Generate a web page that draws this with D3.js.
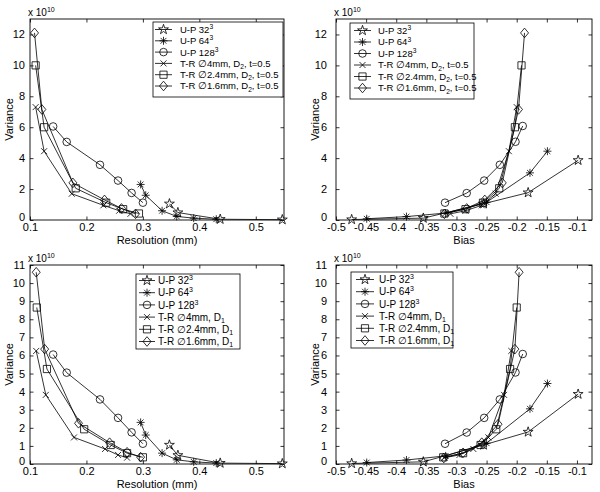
<!DOCTYPE html>
<html><head><meta charset="utf-8">
<script src="https://cdn.jsdelivr.net/npm/d3@7"></script>
<style>
body{margin:0;background:#fff}
svg{display:block}
text{font-family:"Liberation Sans",Arial,Helvetica,sans-serif;fill:#000}
</style>
</head><body>
<svg id="c" width="600" height="492"></svg>
<script>
// ---------------- DATA ----------------
const resTicks = [0.1, 0.2, 0.3, 0.4, 0.5];
const biasTicks = [-0.5, -0.45, -0.4, -0.35, -0.3, -0.25, -0.2, -0.15, -0.1];
const varTicksTop = [0, 2, 4, 6, 8, 10, 12];
const varTicksBottom = [0, 1, 2, 3, 4, 5, 6, 7, 8, 9, 10, 11];

const legendTop = ["U-P 32^{3}", "U-P 64^{3}", "U-P 128^{3}",
  "T-R \u22054mm, D_{2}, t=0.5", "T-R \u22052.4mm, D_{2}, t=0.5", "T-R \u22051.6mm, D_{2}, t=0.5"];
const legendBottom = ["U-P 32^{3}", "U-P 64^{3}", "U-P 128^{3}",
  "T-R \u22054mm, D_{1}", "T-R \u22052.4mm, D_{1}", "T-R \u22051.6mm, D_{1}"];

// Resolution (mm) vs variance (x 1e10)
const upRes32  = [[0.347,1.05],[0.362,0.48],[0.437,0.05],[0.547,0.02]];
const upRes64  = [[0.296,2.3],[0.305,1.6],[0.334,0.6],[0.36,0.23],[0.39,0.12],[0.43,0.05]];
const upRes128 = [[0.141,6.05],[0.165,5.05],[0.224,3.57],[0.256,2.55],[0.28,1.75],[0.30,1.12]];

const trRes4D2  = [[0.11,7.3],[0.125,4.45],[0.174,1.7],[0.23,0.95],[0.258,0.6],[0.278,0.4]];
const trRes24D2 = [[0.11,10.0],[0.125,6.0],[0.181,2.05],[0.235,1.12],[0.265,0.7],[0.293,0.42]];
const trRes16D2 = [[0.108,12.1],[0.121,7.15],[0.176,2.4],[0.232,1.3],[0.262,0.75],[0.287,0.4]];

const trRes4D1  = [[0.111,6.25],[0.128,3.82],[0.178,1.47],[0.233,0.83],[0.256,0.5],[0.272,0.35]];
const trRes24D1 = [[0.112,8.65],[0.13,5.25],[0.196,1.92],[0.243,1.05],[0.272,0.6],[0.30,0.37]];
const trRes16D1 = [[0.111,10.6],[0.126,6.35],[0.186,2.25],[0.241,1.18],[0.272,0.65],[0.296,0.38]];

// Bias vs variance (x 1e10)
const upBias32  = [[-0.474,0.03],[-0.355,0.12],[-0.255,1.05],[-0.181,1.77],[-0.098,3.86]];
const upBias64  = [[-0.449,0.08],[-0.383,0.22],[-0.318,0.45],[-0.25,1.15],[-0.178,3.05],[-0.149,4.45]];
const upBias128 = [[-0.319,1.12],[-0.283,1.74],[-0.254,2.55],[-0.228,3.57],[-0.202,5.06],[-0.19,6.08]];

const trBias4D2  = [[-0.2,7.3],[-0.213,4.45],[-0.235,1.7],[-0.258,0.95],[-0.285,0.6],[-0.31,0.4]];
const trBias24D2 = [[-0.192,10.0],[-0.203,6.0],[-0.229,2.05],[-0.256,1.12],[-0.285,0.7],[-0.32,0.42]];
const trBias16D2 = [[-0.187,12.1],[-0.197,7.15],[-0.224,2.4],[-0.253,1.3],[-0.283,0.75],[-0.32,0.4]];

const trBias4D1  = [[-0.209,6.25],[-0.221,3.82],[-0.247,1.47],[-0.272,0.83],[-0.295,0.5],[-0.32,0.35]];
const trBias24D1 = [[-0.2,8.65],[-0.211,5.25],[-0.234,1.92],[-0.26,1.05],[-0.289,0.6],[-0.322,0.37]];
const trBias16D1 = [[-0.196,10.6],[-0.203,6.35],[-0.231,2.2],[-0.258,1.18],[-0.289,0.62],[-0.321,0.33]];

// ---------------- MARKERS ----------------
function pentagram(R){
  const r = R*0.382, pts=[];
  for(let i=0;i<10;i++){
    const a = -Math.PI/2 + i*Math.PI/5, rr = i%2?r:R;
    pts.push([rr*Math.cos(a), rr*Math.sin(a)]);
  }
  return "M"+pts.map(p=>p[0].toFixed(2)+","+p[1].toFixed(2)).join("L")+"Z";
}
const markerPaths = [
  pentagram(5.2),
  "M-4,0L4,0M0,-4L0,4M-2.9,-2.9L2.9,2.9M-2.9,2.9L2.9,-2.9",
  d3.symbol(d3.symbolCircle, Math.PI*3.8*3.8)(),
  "M-3,-3L3,3M-3,3L3,-3",
  "M-3.6,-3.6H3.6V3.6H-3.6Z",
  "M0,-4.8L4,0L0,4.8L-4,0Z"
];

// ---------------- HELPERS ----------------
const svg = d3.select("#c");
svg.append("rect").attr("width",600).attr("height",492).attr("fill","#fff");

function rich(sel, str, fs){
  const parts = str.split(/(\^\{[^}]*\}|_\{[^}]*\})/).filter(p=>p.length);
  let off = 0;
  parts.forEach(p=>{
    let target = 0, txt = p, size = fs;
    if(p.startsWith("^{")){ target = -fs*0.4; txt = p.slice(2,-1); size = fs*0.7; }
    else if(p.startsWith("_{")){ target = fs*0.22; txt = p.slice(2,-1); size = fs*0.7; }
    sel.append("tspan").attr("dy", (target-off).toFixed(2)).attr("font-size", size).text(txt);
    off = target;
  });
}

function fmt(v){ return String(+v.toFixed(2)); }

function drawPanel(cfg){
  const x = d3.scaleLinear().domain(cfg.xDomain).range([cfg.left, cfg.right]);
  const y = d3.scaleLinear().domain(cfg.yDomain).range([cfg.bottom, cfg.top]);
  const g = svg.append("g");
  const w = cfg.right-cfg.left, h = cfg.bottom-cfg.top;

  // axes (ticks inside, box)
  const tk = 3.5;
  const ax = [
    g.append("g").attr("transform",`translate(0,${cfg.bottom})`).call(d3.axisBottom(x).tickValues(cfg.xTicks).tickSize(-tk).tickPadding(3).tickFormat(fmt)),
    g.append("g").attr("transform",`translate(0,${cfg.top})`).call(d3.axisTop(x).tickValues(cfg.xTicks).tickSize(-tk).tickFormat("")),
    g.append("g").attr("transform",`translate(${cfg.left},0)`).call(d3.axisLeft(y).tickValues(cfg.yTicks).tickSize(-tk).tickPadding(cfg.yPad).tickFormat(d3.format("d"))),
    g.append("g").attr("transform",`translate(${cfg.right},0)`).call(d3.axisRight(y).tickValues(cfg.yTicks).tickSize(-tk).tickFormat(""))
  ];
  ax.forEach(a=>{
    a.select(".domain").remove();
    a.selectAll("line").attr("stroke","#000").attr("stroke-width",0.8);
    a.selectAll("text").attr("font-size",11).attr("font-family",null);
  });
  // nudge the y-axis "0" label up so it clears the x tick labels
  ax[2].selectAll(".tick text").filter(d=>d===0).attr("dy","0.05em");
  g.append("rect").attr("x",cfg.left).attr("y",cfg.top).attr("width",w).attr("height",h)
    .attr("fill","none").attr("stroke","#000").attr("stroke-width",0.9);

  // series
  const line = d3.line().x(d=>x(d[0])).y(d=>y(d[1]));
  cfg.series.forEach((s,i)=>{
    g.append("path").datum(s).attr("d",line).attr("fill","none").attr("stroke","#000").attr("stroke-width",0.8);
    g.selectAll(null).data(s).join("path")
      .attr("transform",d=>`translate(${x(d[0]).toFixed(2)},${y(d[1]).toFixed(2)})`)
      .attr("d",markerPaths[i]).attr("fill","none").attr("stroke","#000").attr("stroke-width",0.8);
  });

  // exponent label
  const ex = g.append("text").attr("x",cfg.left-2).attr("y",cfg.top-3).attr("font-size",10);
  rich(ex,"x 10^{10}",10);

  // axis labels
  g.append("text").attr("x",(cfg.left+cfg.right)/2).attr("y",cfg.bottom+23.5).attr("text-anchor","middle")
    .attr("font-size",11).text(cfg.xLabel);
  g.append("text").attr("transform",`translate(${cfg.left-17},${(cfg.top+cfg.bottom)/2}) rotate(-90)`)
    .attr("text-anchor","middle").attr("font-size",11).text("Variance");

  // legend
  const L = cfg.legend;
  g.append("rect").attr("x",L.x0).attr("y",L.y0).attr("width",L.x1-L.x0).attr("height",L.y1-L.y0)
    .attr("fill","#fff").attr("stroke","#000").attr("stroke-width",0.8);
  cfg.labels.forEach((lab,i)=>{
    const ry = L.row0 + i*L.step;
    g.append("line").attr("x1",L.lx0).attr("x2",L.lx1).attr("y1",ry).attr("y2",ry).attr("stroke","#000").attr("stroke-width",0.8);
    g.append("path").attr("transform",`translate(${(L.lx0+L.lx1)/2},${ry})`).attr("d",markerPaths[i])
      .attr("fill","none").attr("stroke","#000").attr("stroke-width",0.8);
    const t = g.append("text").attr("x",L.tx).attr("y",ry+L.fs*0.36).attr("font-size",L.fs);
    rich(t,lab,L.fs);
  });
}

// ---------------- PANELS ----------------
drawPanel({left:30,right:284,top:19,bottom:220,xDomain:[0.1,0.55],yDomain:[0,13],yPad:5,
  xTicks:resTicks,yTicks:varTicksTop,xLabel:"Resolution (mm)",labels:legendTop,
  series:[upRes32,upRes64,upRes128,trRes4D2,trRes24D2,trRes16D2],
  legend:{x0:153,x1:283,y0:22,y1:97,row0:29.5,step:11.3,lx0:155,lx1:172,tx:180,fs:9.5}});
drawPanel({left:336,right:592,top:19,bottom:220,xDomain:[-0.5,-0.075],yDomain:[0,13],yPad:9,
  xTicks:biasTicks,yTicks:varTicksTop,xLabel:"Bias",labels:legendTop,
  series:[upBias32,upBias64,upBias128,trBias4D2,trBias24D2,trBias16D2],
  legend:{x0:350,x1:474,y0:23,y1:99,row0:30.5,step:11.5,lx0:354,lx1:371,tx:378,fs:9.5}});
drawPanel({left:30,right:284,top:265,bottom:464,xDomain:[0.1,0.55],yDomain:[0,11],yPad:5,
  xTicks:resTicks,yTicks:varTicksBottom,xLabel:"Resolution (mm)",labels:legendBottom,
  series:[upRes32,upRes64,upRes128,trRes4D1,trRes24D1,trRes16D1],
  legend:{x0:136,x1:240,y0:274,y1:349,row0:280.5,step:12.2,lx0:139,lx1:155,tx:158,fs:10}});
drawPanel({left:336,right:592,top:265,bottom:464,xDomain:[-0.5,-0.075],yDomain:[0,11],yPad:9,
  xTicks:biasTicks,yTicks:varTicksBottom,xLabel:"Bias",labels:legendBottom,
  series:[upBias32,upBias64,upBias128,trBias4D1,trBias24D1,trBias16D1],
  legend:{x0:351,x1:453,y0:272,y1:348,row0:279.5,step:12.2,lx0:356,lx1:374,tx:379,fs:10}});
</script>
</body></html>
